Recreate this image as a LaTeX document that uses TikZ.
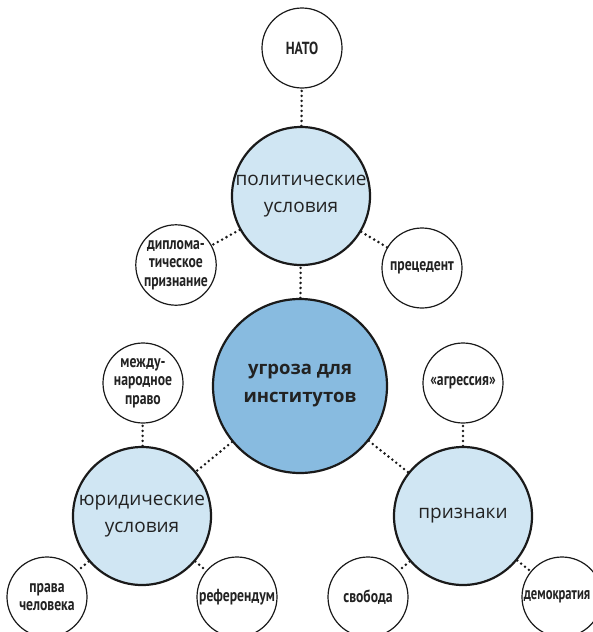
\documentclass[tikz,border=0pt]{standalone}
\usepackage{fontspec}
\setmainfont{Open Sans}
\newfontfamily\condfont{PT Sans}[FakeStretch=0.78]
\newfontfamily\narrowfont{PT Sans}[FakeStretch=0.72]
\definecolor{bigblue}{HTML}{88BBE0}
\definecolor{midblue}{HTML}{D0E6F3}
\definecolor{textdark}{HTML}{222222}
\definecolor{linedark}{HTML}{1A1A1A}
\begin{document}
\begin{tikzpicture}[x=1pt,y=-1pt,
  bigc/.style={circle, draw=linedark, line width=2.2pt, fill=bigblue, minimum size=174pt, inner sep=0pt, align=center, text=textdark, font=\bfseries\fontsize{18.5}{28}\selectfont},
  midc/.style={circle, draw=linedark, line width=2.2pt, fill=midblue, minimum size=138pt, inner sep=0pt, align=center, text=textdark, font=\fontsize{19}{27}\selectfont},
  smallc/.style={circle, draw=linedark, line width=1.2pt, fill=white, minimum size=80pt, inner sep=0pt, align=center, text=textdark, font=\condfont\bfseries\fontsize{17.5}{18.5}\selectfont},
  edgetext/.style={font=\narrowfont\bfseries\fontsize{17.5}{18.5}\selectfont},
  link/.style={draw=linedark, line width=2.8pt, line cap=round, dash pattern=on 0pt off 5pt}]
\useasboundingbox (0,0) rectangle (593,632);
\clip (0,0) rectangle (593,632);
\node[bigc] (core) at (300,386) {угроза для\\институтов};
\node[midc] (pol) at (301,196) {политические\\условия};
\node[midc] (jur) at (142,516) {юридические\\условия};
\node[midc] (prz) at (463,516) {признаки};
\node[smallc] (nato) at (302,48) {НАТО};
\node[smallc] (dipl) at (176,265) {диплома-\\тическое\\признание};
\node[smallc] (prec) at (422,268) {прецедент};
\node[smallc] (intl) at (143,383) {между-\\народное\\право};
\node[smallc] (hum) at (47,597) {права\\человека};
\node[smallc] (ref) at (237,597) {референдум};
\node[smallc] (aggr) at (463,383) {«агрессия»};
\node[smallc] (free) at (368,597) {свобода};
\node[smallc, edgetext] (dem) at (562,597) {\hspace*{-10pt}демократия};
\draw[link] (core) -- (pol);
\draw[link] (core) -- (jur);
\draw[link] (core) -- (prz);
\draw[link] (pol) -- (nato);
\draw[link] (pol) -- (dipl);
\draw[link] (pol) -- (prec);
\draw[link] (jur) -- (intl);
\draw[link] (jur) -- (hum);
\draw[link] (jur) -- (ref);
\draw[link] (prz) -- (aggr);
\draw[link] (prz) -- (free);
\draw[link] (prz) -- (dem);
\end{tikzpicture}
\end{document}
